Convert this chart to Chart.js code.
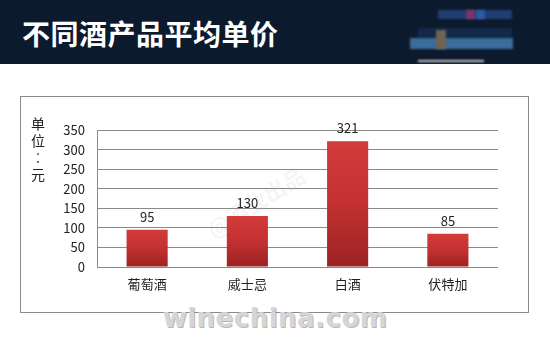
<!DOCTYPE html>
<html>
<head>
<meta charset="utf-8">
<script src="https://cdn.jsdelivr.net/npm/chart.js@4/dist/chart.umd.min.js"></script>
<style>
  html, body { margin: 0; padding: 0; background: #fff; }
  #page { position: relative; width: 550px; height: 341px; overflow: hidden; font-family: 'Noto Sans CJK SC', sans-serif; }
  #header { position: absolute; left: 0; top: 0; width: 550px; height: 64px; background: #0c1a2d; }
  #title { position: absolute; left: 22px; top: 13px; color: #fff; font-size: 28px; font-weight: 700; line-height: 40px; letter-spacing: 0.5px; }
  .blur { position: absolute; filter: blur(1px); }
  #box { position: absolute; left: 20px; top: 96px; width: 507px; height: 215px; border: 1px solid #8a8a8a; }
  #mark { position: absolute; left: 0; width: 550px; top: 303px; text-align: center; font-family: 'DejaVu Sans', sans-serif; font-weight: 700; font-size: 26px; color: #d6d6d6; text-shadow: 1px 1px 0 #b8b8b8; letter-spacing: 0.5px; }
  #mark2 { position: absolute; left: 200px; top: 185px; font-size: 22px; font-weight: 700; color: rgba(170,170,170,0.12); transform: rotate(-32deg); }
  canvas { position: absolute; left: 0; top: 0; }
</style>
</head>
<body>
<div id="page">
  <div id="header">
    <div id="title">不同酒产品平均单价</div>
    <div class="blur" style="left:438px;top:10px;width:74px;height:9px;background:#1f3f72;"></div>
    <div class="blur" style="left:466px;top:10px;width:9px;height:9px;background:#7a3466;"></div>
    <div class="blur" style="left:476px;top:10px;width:9px;height:9px;background:#2d5aa0;"></div>
    <div class="blur" style="left:418px;top:28px;width:94px;height:10px;background:#13294a;"></div>
    <div class="blur" style="left:410px;top:38px;width:103px;height:11px;background:#3a6d9c;"></div>
    <div class="blur" style="left:436px;top:30px;width:10px;height:19px;background:#6f6450;"></div>
    <div class="blur" style="left:418px;top:60px;width:66px;height:2px;background:#c8c8c8;"></div>
  </div>
  <div id="box"></div>
  <div id="mark2">@酒业出品</div>
  <div id="mark">winechina.com</div>
  <canvas id="chart" width="550" height="341"></canvas>
</div>
<script>
// data
const categories = ['葡萄酒', '威士忌', '白酒', '伏特加'];
const prices = [95, 130, 321, 85];
const yTicks = [0, 50, 100, 150, 200, 250, 300, 350];
const unitLabel = ['单', '位', '︰', '元'];

const textColor = '#222';
const gridColor = '#8a8a8a';
const fontFamily = "'Noto Sans CJK SC', sans-serif";

// per-bar vertical gradient, light at top, dark at bottom
function barFill(ctx) {
  const chart = ctx.chart;
  const area = chart.chartArea;
  if (!area || ctx.raw == null) return '#c43030';
  const top = chart.scales.y.getPixelForValue(ctx.raw);
  const g = chart.ctx.createLinearGradient(0, top, 0, area.bottom);
  g.addColorStop(0, '#d43b3b');
  g.addColorStop(0.5, '#c23131');
  g.addColorStop(1, '#9c2222');
  return g;
}

// value labels above bars + stacked unit label
const extras = {
  id: 'extras',
  afterDatasetsDraw(chart) {
    const c = chart.ctx;
    const meta = chart.getDatasetMeta(0);
    c.save();
    c.fillStyle = textColor;
    c.font = '13px ' + fontFamily;
    c.textAlign = 'center';
    c.textBaseline = 'middle';
    meta.data.forEach((bar, i) => {
      c.fillText(String(prices[i]), bar.x, bar.y - 13);
    });
    c.font = '14px ' + fontFamily;
    unitLabel.forEach((ch, i) => {
      c.fillText(ch, 38, 124 + i * 17);
    });
    c.restore();
  }
};

new Chart(document.getElementById('chart'), {
  type: 'bar',
  data: {
    labels: categories,
    datasets: [{
      data: prices,
      backgroundColor: barFill,
      borderWidth: 0,
      barPercentage: 0.41,
      categoryPercentage: 1
    }]
  },
  plugins: [extras],
  options: {
    responsive: false,
    animation: false,
    devicePixelRatio: 1,
    layout: { padding: { left: 20, right: 52, top: 130, bottom: 0 } },
    plugins: { legend: { display: false }, tooltip: { enabled: false } },
    scales: {
      y: {
        min: 0,
        max: 350,
        afterFit: s => { s.width = 77; },
        afterBuildTicks: s => { s.ticks = yTicks.map(v => ({ value: v })); },
        grid: { color: gridColor, lineWidth: 1, drawTicks: false },
        border: { display: true, color: gridColor },
        ticks: { color: textColor, padding: 12, font: { family: fontFamily, size: 13 } }
      },
      x: {
        afterFit: s => { s.height = 74; },
        grid: { display: false, drawTicks: false },
        border: { display: false },
        ticks: { color: textColor, padding: 9, font: { family: fontFamily, size: 13 } }
      }
    }
  }
});
</script>
</body>
</html>
